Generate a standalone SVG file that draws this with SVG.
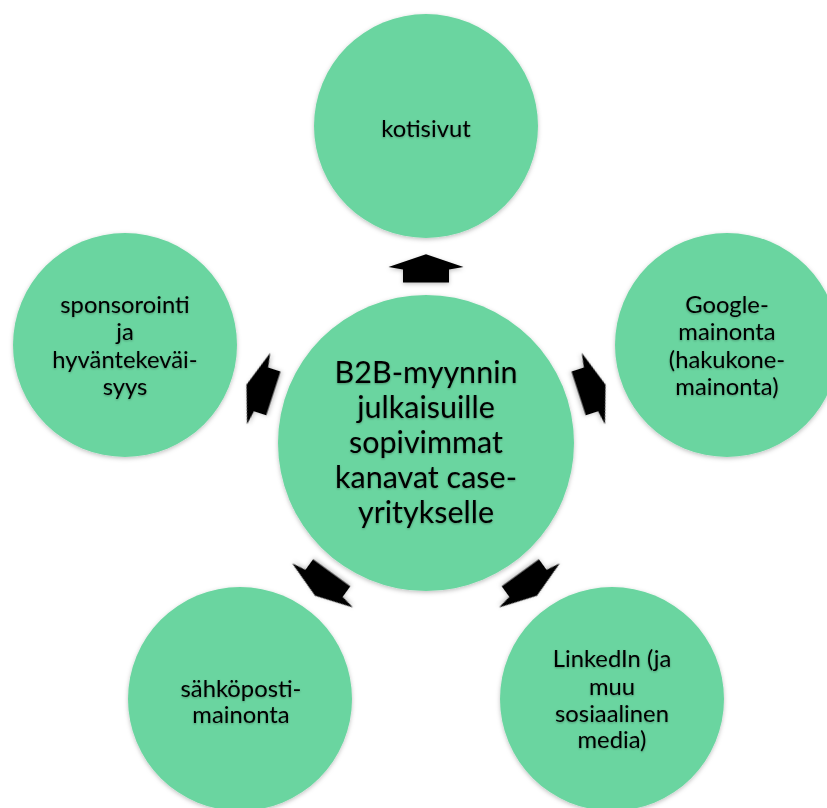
<svg xmlns="http://www.w3.org/2000/svg" width="827" height="808" viewBox="0 0 827 808">
<defs>
<filter id="sh" x="-20%" y="-20%" width="140%" height="140%">
<feDropShadow dx="0" dy="1.5" stdDeviation="2" flood-color="#000" flood-opacity="0.25"/>
</filter>
<filter id="tsh" x="-10%" y="-30%" width="120%" height="160%">
<feDropShadow dx="0" dy="1" stdDeviation="1" flood-color="#000" flood-opacity="0.3"/>
</filter>
<polygon id="arr" points="0,-12.7 37.5,0 23,2.6 23,15.6 -23,15.6 -23,2.6 -37.5,0"/>
</defs>
<style>
.c{fill:#6bd5a0;filter:url(#sh)}
.t{font-family:Lato,"Open Sans",sans-serif;fill:#000;text-anchor:middle;filter:url(#tsh)}
.s{font-size:23.8px}
.m{font-size:30.5px}
.a{fill:#000;filter:url(#sh)}
</style>
<rect width="827" height="808" fill="#fff"/>
<g id="connectors">
<use href="#arr" class="a" transform="rotate(0 426 443) translate(426 267)"/>
<use href="#arr" class="a" transform="rotate(72 426 443) translate(426 267)"/>
<use href="#arr" class="a" transform="rotate(144 426 443) translate(426 267)"/>
<use href="#arr" class="a" transform="rotate(216 426 443) translate(426 267)"/>
<use href="#arr" class="a" transform="rotate(288 426 443) translate(426 267)"/>
</g>
<g id="center">
<circle class="c" cx="426" cy="443" r="148"/>
<text class="t m" x="426"><tspan x="426" y="383">B2B-myynnin</tspan><tspan x="426" y="418">julkaisuille</tspan><tspan x="426" y="453">sopivimmat</tspan><tspan x="426" y="488">kanavat case-</tspan><tspan x="426" y="523">yritykselle</tspan></text>
</g>
<g id="kotisivut">
<circle class="c" cx="426" cy="126" r="112"/>
<text class="t s" x="426" y="137">kotisivut</text>
</g>
<g id="google">
<circle class="c" cx="727" cy="345" r="112"/>
<text class="t s"><tspan x="727" y="313">Google-</tspan><tspan x="727" y="340">mainonta</tspan><tspan x="727" y="368">(hakukone-</tspan><tspan x="727" y="395">mainonta)</tspan></text>
</g>
<g id="linkedin">
<circle class="c" cx="612" cy="699" r="112"/>
<text class="t s"><tspan x="612" y="667">LinkedIn (ja</tspan><tspan x="612" y="695">muu</tspan><tspan x="612" y="722">sosiaalinen</tspan><tspan x="612" y="748">media)</tspan></text>
</g>
<g id="sahkoposti">
<circle class="c" cx="240" cy="699" r="112"/>
<text class="t s"><tspan x="241" y="697">sähköposti-</tspan><tspan x="241" y="723">mainonta</tspan></text>
</g>
<g id="sponsorointi">
<circle class="c" cx="125" cy="345" r="112"/>
<text class="t s"><tspan x="125" y="313">sponsorointi</tspan><tspan x="125" y="340">ja</tspan><tspan x="125" y="368">hyväntekeväi-</tspan><tspan x="125" y="395">syys</tspan></text>
</g>
</svg>
